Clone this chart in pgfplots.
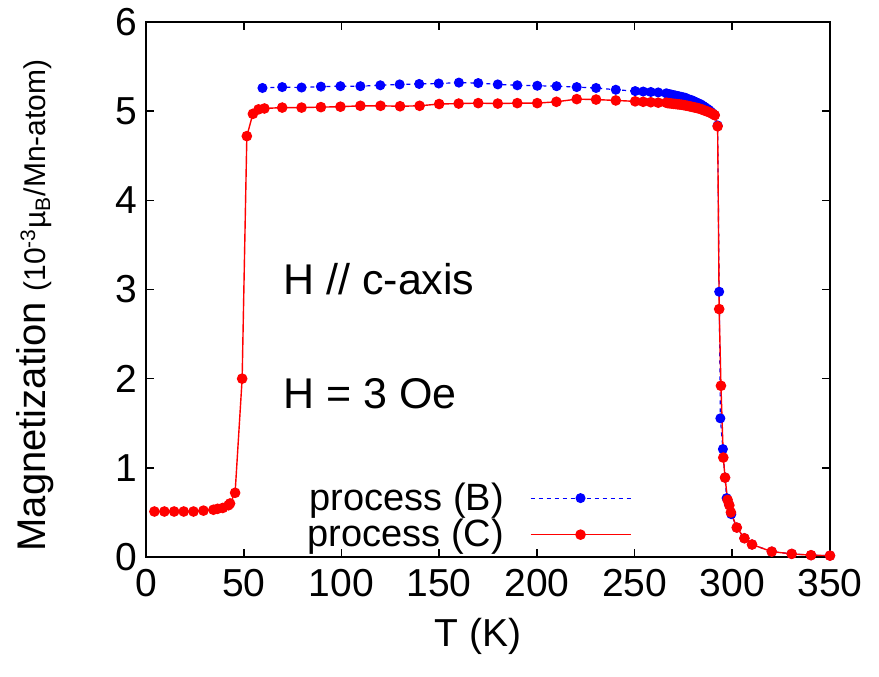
\documentclass[border=0pt]{standalone}
\usepackage{fontspec}
\setmainfont{Liberation Sans}
\usepackage{pgfplots}
\usetikzlibrary{calc}
\pgfplotsset{compat=1.18}
\begin{document}
\begin{tikzpicture}
\begin{axis}[
  name=ax,
  scale only axis,
  width=342pt, height=267.5pt,
  xmin=0, xmax=350, ymin=0, ymax=6,
  xtick={0,50,...,350}, ytick={0,1,...,6},
  tick align=inside,
  major tick length=4pt,
  axis line style={line width=0.9pt},
  every tick/.style={black, line width=0.8pt},
  font=\fontsize{19.5}{23}\selectfont,
  /pgf/number format/assume math mode=true,
  xticklabel style={yshift=-2.5pt},
  yticklabel style={xshift=-1pt},
  xlabel={T (K)},
  xlabel style={at={(axis description cs:0.485,-0.148)}, anchor=center},
  ylabel={{\fontsize{20}{24}\selectfont Magnetization} {\fontsize{15}{18}\selectfont (10\textsuperscript{-3}\textmu\textsubscript{B}/Mn-atom)}},
  ylabel style={at={(axis description cs:-0.162,0.47)}, anchor=center, rotate=0},
  legend plot pos=right,
  legend cell align=right,
  legend style={draw=none, fill=none, at={(axis cs:248.5,0.03)}, anchor=south east,
     font=\fontsize{19}{19}\selectfont, row sep=-1pt, inner sep=0pt,
     nodes={inner sep=2pt}},
  legend image code/.code={\path (0pt,0pt); \draw[mark repeat=2,mark phase=2] plot coordinates {(11pt,0pt) (36pt,0pt) (61pt,0pt)};},
]
\addplot[blue, line width=0.6pt, dash pattern=on 2pt off 2pt, mark=*, mark size=2.2pt, mark options={solid, blue}] coordinates {
(59.6,5.26) (69.7,5.27) (79.6,5.265) (89.5,5.275) (99.5,5.28) (109.7,5.28) (119.9,5.29) (129.8,5.30) (139.8,5.305) (149.8,5.31) (160.1,5.32) (170,5.315) (180,5.30) (190,5.29) (200.2,5.285) (210.1,5.28) (220.4,5.27) (230.3,5.26) (240.4,5.24) (250.3,5.225) (254.4,5.22) (258.3,5.215) (262.1,5.21) (266.2,5.20)
(267,5.195) (268,5.19) (269,5.185) (270,5.18) (271,5.175) (272,5.17) (273,5.165) (274,5.16) (275,5.155) (276,5.15) (277,5.14) (278,5.13) (279,5.125) (280,5.115) (281,5.105) (282,5.095) (283,5.085) (284,5.075) (285,5.06) (286,5.045) (287,5.03) (288,5.015) (289,4.995) (290,4.975) (291,4.955)
(292.5,4.84) (293.3,2.975) (293.9,1.555) (295.2,1.21) (296.3,0.89) (297.1,0.66) (298.3,0.59) (299.5,0.48) (302.3,0.33) (306.2,0.21) (310.1,0.14) (320.2,0.06) (330.4,0.035) (340.3,0.02) (350,0.015)
};
\addlegendentry{process (B)}
\addplot[red, line width=0.7pt, mark=*, mark size=2.3pt, mark options={solid, red}] coordinates {
(4.3,0.51) (9.4,0.51) (14.4,0.51) (19.3,0.51) (24.3,0.51) (29.4,0.52) (34.5,0.53) (36.6,0.54) (39.3,0.55) (42.2,0.58) (43,0.60) (45.6,0.72) (49.2,2.0) (51.6,4.72) (54.7,4.97) (57.6,5.02) (60.6,5.03) (69.7,5.04) (79.6,5.04) (89.5,5.045) (99.5,5.05) (109.7,5.06) (120,5.06) (130,5.055) (140,5.06) (150,5.08) (160,5.085) (170,5.09) (180,5.085) (190,5.09) (200.2,5.09) (210,5.105) (220.4,5.135) (230.3,5.13) (240.4,5.12) (250.3,5.11) (254.4,5.105) (258.3,5.10) (262.1,5.095) (266.2,5.095)
(267,5.09) (268,5.088) (269,5.085) (270,5.082) (271,5.08) (272,5.077) (273,5.075) (274,5.072) (275,5.068) (276,5.064) (277,5.06) (278,5.055) (279,5.05) (280,5.045) (281,5.04) (282,5.035) (283,5.03) (284,5.022) (285,5.015) (286,5.005) (287,4.998) (288,4.99) (289,4.98) (290,4.968) (291,4.955)
(292.5,4.83) (293.3,2.78) (294.2,1.92) (295.4,1.115) (296.3,0.89) (297.6,0.64) (298.5,0.58) (299.3,0.50) (302.3,0.33) (306.2,0.21) (310.1,0.14) (320.2,0.06) (330.4,0.035) (340.3,0.02) (350,0.015)
};
\addlegendentry{process (C)}
\node[anchor=base west, inner sep=0pt, font=\fontsize{21.5}{26}\selectfont] at (axis cs:70.1,2.94) {H // c-axis};
\node[anchor=base west, inner sep=0pt, font=\fontsize{21.5}{26}\selectfont] at (axis cs:70.1,1.67) {H = 3 Oe};
\end{axis}
\pgfresetboundingbox
\path[use as bounding box] ($(ax.south west)+(-73pt,-60pt)$) rectangle ($(ax.north east)+(24.5pt,11pt)$);
\end{tikzpicture}
\end{document}
